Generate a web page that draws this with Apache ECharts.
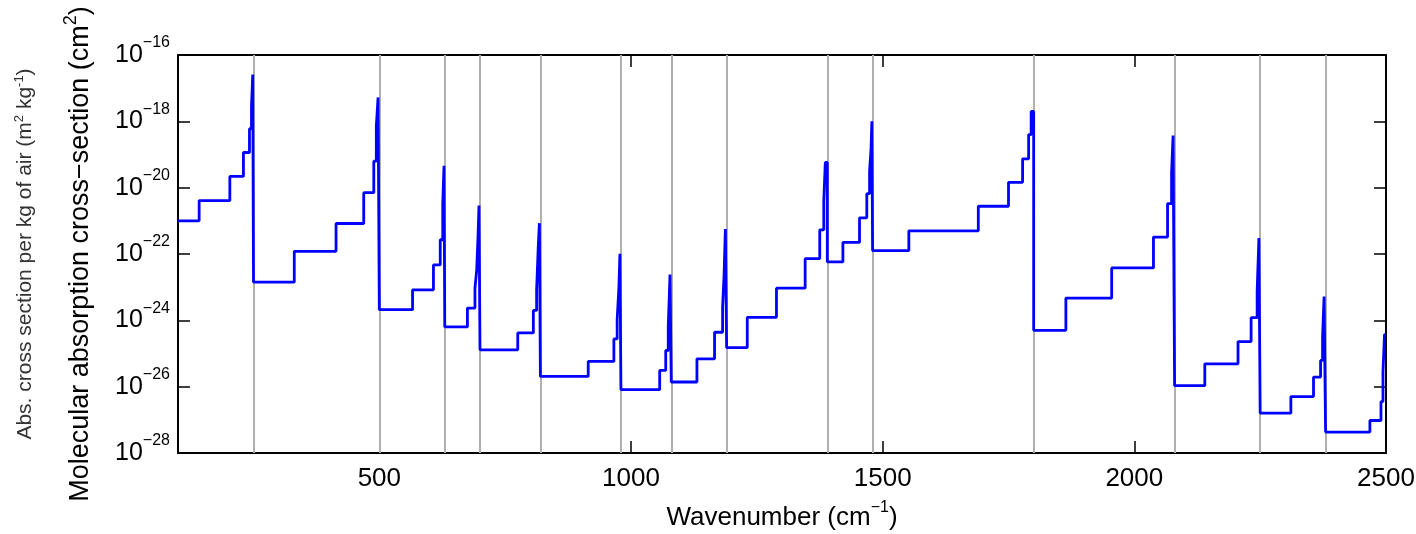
<!DOCTYPE html>
<html>
<head>
<meta charset="utf-8">
<title>Molecular absorption cross-section</title>
<script src="https://cdn.jsdelivr.net/npm/echarts@6/dist/echarts.min.js"></script>
<style>
  html, body { margin: 0; padding: 0; background: #fff; }
  #chart { width: 1416px; height: 534px; }
</style>
</head>
<body>
<div id="chart"></div>
<script>
// band boundaries (grey vertical lines), cm-1
var bandEdges = [250, 500, 630, 700, 820, 980, 1080, 1190, 1390, 1480, 1800, 2080, 2250, 2380];

// start wavenumber of each step and its log10 cross-section (cm2)
var stepX = [
  100, 142, 203, 230, 242, 246, 248.5,
  250, 331, 414, 469, 489, 494, 497.5,
  500, 566, 607.5, 621, 626, 628.5,
  630, 675, 690, 693.5, 696, 698,
  700, 775, 806, 812.5, 815.5, 818,
  820, 915, 966, 972.5, 976, 978,
  980, 1057, 1069, 1074, 1077.5,
  1080, 1131, 1166, 1182, 1185, 1187.5,
  1190, 1231, 1289, 1346, 1375, 1383, 1386,
  1390, 1421, 1454, 1468.5, 1474, 1477, 1478.5,
  1480, 1552, 1690, 1750, 1778, 1790, 1795,
  1800, 1864, 1955, 2038, 2066, 2074, 2077,
  2080, 2140, 2206, 2232, 2244, 2247.5,
  2250, 2311, 2356, 2370, 2374, 2377,
  2380, 2468, 2490, 2494, 2497, 2500
];
var stepLog = [
  -21.0, -20.39, -19.66, -18.94, -18.22, -17.56, -16.59,
  -22.85, -21.92, -21.08, -20.15, -19.2, -18.15, -17.28,
  -23.68, -23.08, -22.33, -21.57, -20.5, -19.34,
  -24.2, -23.63, -23.03, -22.47, -21.5, -20.54,
  -24.89, -24.38, -23.7, -23.08, -21.87, -21.07,
  -25.69, -25.24, -24.56, -23.98, -23.0, -21.99,
  -26.09, -25.51, -24.91, -24.2, -22.62,
  -25.86, -25.16, -24.36, -23.6, -22.6, -21.25,
  -24.82, -23.91, -23.03, -22.14, -21.27, -20.41, -19.24,
  -22.24, -21.65, -20.91, -20.18, -19.51, -18.8, -18.0,
  -21.9, -21.3, -20.56, -19.84, -19.13, -18.4, -17.7,
  -24.3, -23.33, -22.42, -21.49, -20.48, -19.56, -18.43,
  -25.97, -25.31, -24.64, -23.92, -23.13, -21.52,
  -26.8, -26.3, -25.71, -25.21, -24.5, -23.28,
  -27.37, -27.02, -26.45, -25.57, -24.43, -24.43
];

var xTicks = [500, 1000, 1500, 2000, 2500];
var xTopTicks = [1000, 1500, 2000];
var yTicks = [1e-28, 1e-26, 1e-24, 1e-22, 1e-20, 1e-18, 1e-16];

var font = 'Liberation Sans';
var data = stepX.map(function (x, i) { return [x, Math.pow(10, stepLog[i])]; });

function expLabel(v) {
  var e = Math.round(Math.log10(v));
  return '{b|10}{s|' + (e < 0 ? '\u2212' : '') + Math.abs(e) + '}';
}

var chart = echarts.init(document.getElementById('chart'));
var option = {
  animation: false,
  backgroundColor: '#fff',
  grid: { left: 178, right: 30, top: 55, bottom: 81, outerBoundsMode: 'none', containLabel: false },
  xAxis: [{
    type: 'value', min: 100, max: 2500,
    name: '{a|Wavenumber (cm}{s|\u22121}{a|)}',
    nameLocation: 'middle', nameGap: 47, nameMoveOverlap: false,
    nameTextStyle: {
      rich: {
        a: { fontFamily: font, fontSize: 26, color: '#000' },
        s: { fontFamily: font, fontSize: 16, color: '#000', padding: [0, 0, 20, 0] }
      }
    },
    axisLine: { onZero: false, lineStyle: { color: '#000', width: 2 } },
    axisTick: { inside: true, length: 12, customValues: xTicks, lineStyle: { color: '#000', width: 1.5 } },
    axisLabel: {
      customValues: xTicks, margin: 13, fontFamily: font, fontSize: 26, color: '#000',
      formatter: function (v) { return String(v); }
    },
    splitLine: { show: false }
  }, {
    type: 'value', min: 100, max: 2500, position: 'top',
    axisLine: { onZero: false, lineStyle: { color: '#000', width: 2 } },
    axisTick: { inside: true, length: 12, customValues: xTopTicks, lineStyle: { color: '#000', width: 1.5 } },
    axisLabel: { show: false },
    splitLine: { show: false }
  }],
  yAxis: [{
    type: 'log', logBase: 10, min: 1e-28, max: 1e-16, interval: 2,
    name: '{a|Molecular absorption cross\u2212section (cm}{s|2}{a|)}',
    nameLocation: 'middle', nameGap: 78, nameRotate: 90, nameMoveOverlap: false,
    nameTextStyle: {
      rich: {
        a: { fontFamily: font, fontSize: 27, color: '#000' },
        s: { fontFamily: font, fontSize: 18, color: '#000', padding: [0, 0, 20, 0] }
      }
    },
    axisLine: { onZero: false, lineStyle: { color: '#000', width: 2 } },
    axisTick: { inside: true, length: 12, lineStyle: { color: '#000', width: 1.5 } },
    axisLabel: {
      customValues: yTicks,
      margin: 8,
      hideOverlap: false,
      formatter: expLabel,
      rich: {
        b: { fontFamily: font, fontSize: 25, color: '#000' },
        s: { fontFamily: font, fontSize: 16, color: '#000', padding: [0, 0, 24, 0] }
      }
    },
    splitLine: { show: false }
  }, {
    type: 'log', logBase: 10, min: 1e-28, max: 1e-16, interval: 2, position: 'right',
    axisLine: { onZero: false, lineStyle: { color: '#000', width: 2 } },
    axisTick: { inside: true, length: 12, lineStyle: { color: '#000', width: 1.5 } },
    axisLabel: { show: false },
    splitLine: { show: false }
  }],
  graphic: [{
    type: 'text', x: 25, y: 254, rotation: Math.PI / 2,
    style: {
      text: '{a|Abs. cross section per kg of air (m}{s|2}{a| kg}{s|-1}{a|)}',
      align: 'center', verticalAlign: 'middle',
      rich: {
        a: { fontFamily: font, fontSize: 21, fill: '#333' },
        s: { fontFamily: font, fontSize: 13, fill: '#333', padding: [0, 0, 12, 0] }
      }
    }
  }],
  series: [{
    type: 'line',
    data: [],
    z: 1,
    silent: true,
    markLine: {
      z: 1,
      silent: true,
      symbol: ['none', 'none'],
      label: { show: false },
      lineStyle: { color: '#b0b0b0', width: 2, type: 'solid' },
      data: bandEdges.map(function (x) { return { xAxis: x }; })
    }
  }, {
    type: 'line',
    data: data,
    step: 'end',
    showSymbol: false,
    z: 3,
    lineStyle: { color: '#0000ff', width: 2.8 }
  }]
};
chart.setOption(option);
</script>
</body>
</html>
